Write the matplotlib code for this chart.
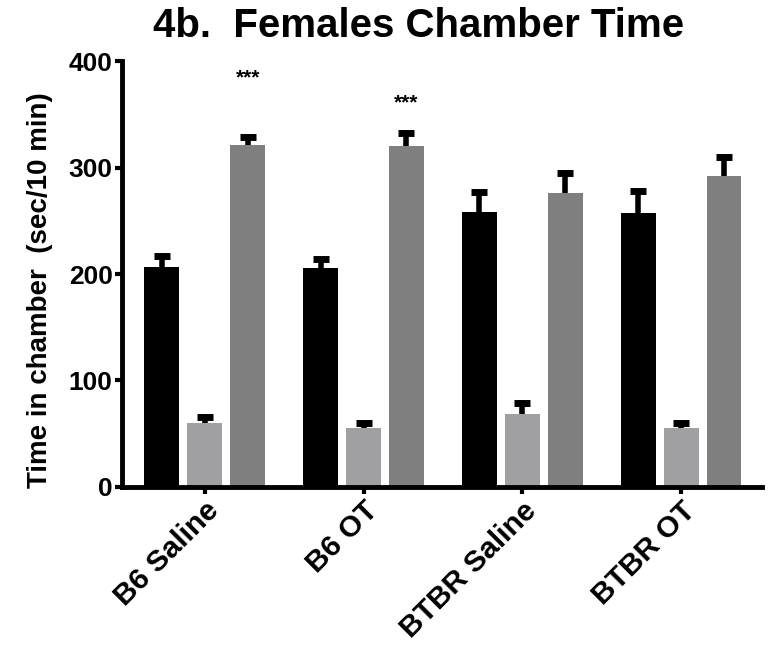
import numpy as np
import matplotlib
matplotlib.use("Agg")
import matplotlib.pyplot as plt

# -------------------------
# Data (sec in each chamber per 10 min, mean + SEM)
# -------------------------
groups = ["B6 Saline", "B6 OT", "BTBR Saline", "BTBR OT"]
chamber_a = [207, 206, 258, 257]      # black bars
chamber_a_sem = [10, 8, 19, 21]
chamber_b = [60, 55, 68, 55]          # light grey bars
chamber_b_sem = [6, 5, 11, 5]
chamber_c = [321, 320, 276, 292]      # dark grey bars
chamber_c_sem = [8, 13, 19, 18]
stars = ["***", "***", "", ""]

COLORS = ["#000000", "#a0a0a3", "#7f7f7f"]

plt.rcParams["font.family"] = ["Liberation Sans", "DejaVu Sans"]
plt.rcParams["font.weight"] = "bold"

fig = plt.figure(figsize=(7.69, 6.66), dpi=100)
ax = fig.add_axes([0.159, 0.269, 0.832, 0.639])

x = np.arange(len(groups))
width = 0.22
offset = 0.27
series = [(chamber_a, chamber_a_sem), (chamber_b, chamber_b_sem), (chamber_c, chamber_c_sem)]
for i, (vals, sem) in enumerate(series):
    pos = x + (i - 1) * offset
    ax.bar(pos, vals, width=width, color=COLORS[i], zorder=2)
    # upper half of the error bar only
    _, caps, _ = ax.errorbar(pos, vals, yerr=[np.zeros(len(sem)), sem], fmt="none",
                             ecolor="black", elinewidth=4, capsize=5.5, capthick=5,
                             zorder=3)
    caps[0].set_visible(False)

# significance marks above the dark grey bars
star_gap = [55, 28, 0, 0]
for i, s in enumerate(stars):
    if s:
        top = chamber_c[i] + chamber_c_sem[i]
        ax.text(x[i] + offset, top + star_gap[i], s, ha="center", va="center",
                fontsize=15, fontweight="bold")

ax.set_xlim(-0.52, 3.51)
ax.set_ylim(0, 400)
ax.set_yticks([0, 100, 200, 300, 400])
ax.set_xticks(x)
ax.set_xticklabels(groups, rotation=45, ha="right", rotation_mode="anchor",
                   fontsize=21.5, fontweight="bold")
for lbl in ax.get_yticklabels():
    lbl.set_fontsize(19)
    lbl.set_fontweight("bold")

for side in ["top", "right"]:
    ax.spines[side].set_visible(False)
for side in ["left", "bottom"]:
    ax.spines[side].set_linewidth(3.5)
ax.tick_params(axis="both", width=3, length=5, pad=2)

ax.set_ylabel("Time in chamber  (sec/10 min)", fontsize=20, fontweight="bold")
ax.yaxis.set_label_coords(-0.108, 0.462)
fig.suptitle("4b.  Females Chamber Time", fontsize=29, fontweight="bold",
             x=0.544, y=0.99, va="top")

fig.savefig("out.png", dpi=100)
